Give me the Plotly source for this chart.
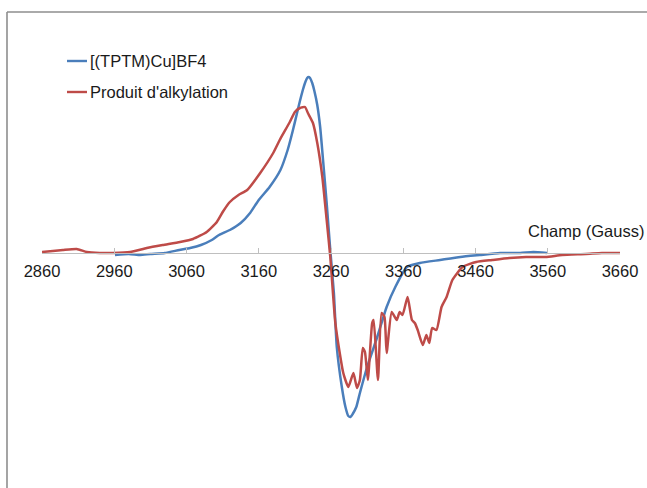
import plotly.graph_objects as go

# ---- data (intensity in arbitrary units) ----
series_names = ["[(TPTM)Cu]BF4", "Produit d'alkylation"]

field_blue = [2961, 2980, 2996, 3010, 3030, 3050, 3065, 3080, 3095, 3105, 3120, 3135, 3148,
              3160, 3175, 3190, 3200, 3207, 3213, 3217, 3221, 3224, 3227, 3229, 3231, 3234,
              3237, 3241, 3245, 3249, 3254, 3259, 3264, 3268, 3275, 3280, 3284, 3287, 3290,
              3295, 3300, 3310, 3324, 3337, 3349, 3365, 3383, 3411, 3439, 3466, 3494, 3522,
              3540, 3559]
int_blue = [-2, -1, -2, -1, 0, 3, 5, 8, 13, 18, 23, 30, 40,
            53, 66, 83, 103, 122, 140, 152, 163, 170, 175, 176, 175, 170,
            162, 148, 126, 93, 50, 3, -40, -94, -134, -154, -163, -164, -161,
            -154, -140, -114, -84, -54, -34, -14, -10, -7, -4, -2, 0, 0,
            1, 0]

field_red = [2860, 2875, 2889, 2908, 2922, 2940, 2958, 2982, 3005, 3027, 3051, 3069, 3088,
             3102, 3111, 3120, 3132, 3144, 3162, 3180, 3189, 3203, 3210, 3217, 3224, 3228,
             3235, 3241, 3248, 3254, 3259, 3266, 3273, 3277, 3284, 3291, 3296, 3300, 3304,
             3307, 3311, 3317, 3319, 3325, 3330, 3334, 3337, 3344, 3351, 3355, 3359, 3366,
             3372, 3376, 3380, 3387, 3392, 3396, 3400, 3406, 3413, 3420, 3428, 3442, 3461,
             3483, 3507, 3530, 3557, 3580, 3613, 3635, 3660]
int_red = [1, 2, 3, 4, 1, 0, 0, 1, 5, 8, 11, 14, 21,
           31, 42, 51, 58, 63, 80, 100, 113, 131, 141, 145, 146, 140,
           130, 110, 76, 33, -4, -70, -104, -120, -134, -120, -135, -127, -95,
           -99, -127, -70, -67, -127, -60, -64, -100, -59, -67, -59, -62, -44,
           -67, -70, -77, -92, -82, -90, -75, -77, -54, -44, -27, -14, -9,
           -7, -5, -4, -4, -2, -1, 0, 0]

tick_vals = [2860, 2960, 3060, 3160, 3260, 3360, 3460, 3560, 3660]
tick_text = [str(v) for v in tick_vals]
axis_title = "Champ (Gauss)"

colors = ["#4A7EBB", "#BE4B48"]

W, H = 647, 488
L, R = 42, 27
X0, X1 = 2860, 3660
ZERO_PX = 253          # vertical pixel of the zero line
Y_MIN, Y_MAX = -(H - ZERO_PX), ZERO_PX


def px_x(p):
    return (p - L) / (W - L - R)


def px_y(p):
    return (H - p) / H


font = dict(family="Liberation Sans, Arial, sans-serif", size=16.5, color="#1a1a1a")

fig = go.Figure()
fig.add_trace(go.Scatter(x=field_blue, y=int_blue, mode="lines", name=series_names[0],
                         line=dict(color=colors[0], width=2.5, shape="spline", smoothing=0.5)))
fig.add_trace(go.Scatter(x=field_red, y=int_red, mode="lines", name=series_names[1],
                         line=dict(color=colors[1], width=2.5, shape="spline", smoothing=0.5)))

shapes = []
# outer frame (chart border, cropped on the right and bottom)
bx, by = px_x(7), px_y(12)
shapes.append(dict(type="line", xref="paper", yref="paper", x0=bx, x1=bx, y0=-0.1, y1=by,
                   line=dict(color="#8e8e8e", width=1.6)))
shapes.append(dict(type="line", xref="paper", yref="paper", x0=bx, x1=1.2, y0=by, y1=by,
                   line=dict(color="#8e8e8e", width=1.6)))

annotations = []
legend_rows = [61, 92]
for name, col, ry in zip(series_names, colors, legend_rows):
    shapes.append(dict(type="line", xref="paper", yref="paper", x0=px_x(67), x1=px_x(87),
                       y0=px_y(ry), y1=px_y(ry), line=dict(color=col, width=2.4)))
    annotations.append(dict(text=name, xref="paper", yref="paper", x=px_x(88), y=px_y(ry),
                            xanchor="left", yanchor="middle", showarrow=False, font=font))

annotations.append(dict(text=axis_title, xref="paper", yref="paper", x=px_x(646), y=px_y(231),
                        xanchor="right", yanchor="middle", showarrow=False, font=font))

fig.update_layout(
    width=W, height=H,
    margin=dict(l=L, r=R, t=0, b=0),
    paper_bgcolor="white", plot_bgcolor="white",
    showlegend=False,
    shapes=shapes,
    annotations=annotations,
    xaxis=dict(range=[X0, X1], anchor="free", position=(H - ZERO_PX) / H,
               showline=True, linecolor="#bfbfbf", linewidth=1.2,
               ticks="inside", ticklen=5, tickcolor="#bfbfbf", tickwidth=1,
               tickvals=tick_vals, ticktext=tick_text, tickfont=font,
               ticklabelstandoff=3,
               showgrid=False, zeroline=False),
    yaxis=dict(range=[Y_MIN, Y_MAX], visible=False, showgrid=False, zeroline=False),
)

fig.write_html("out.html")
